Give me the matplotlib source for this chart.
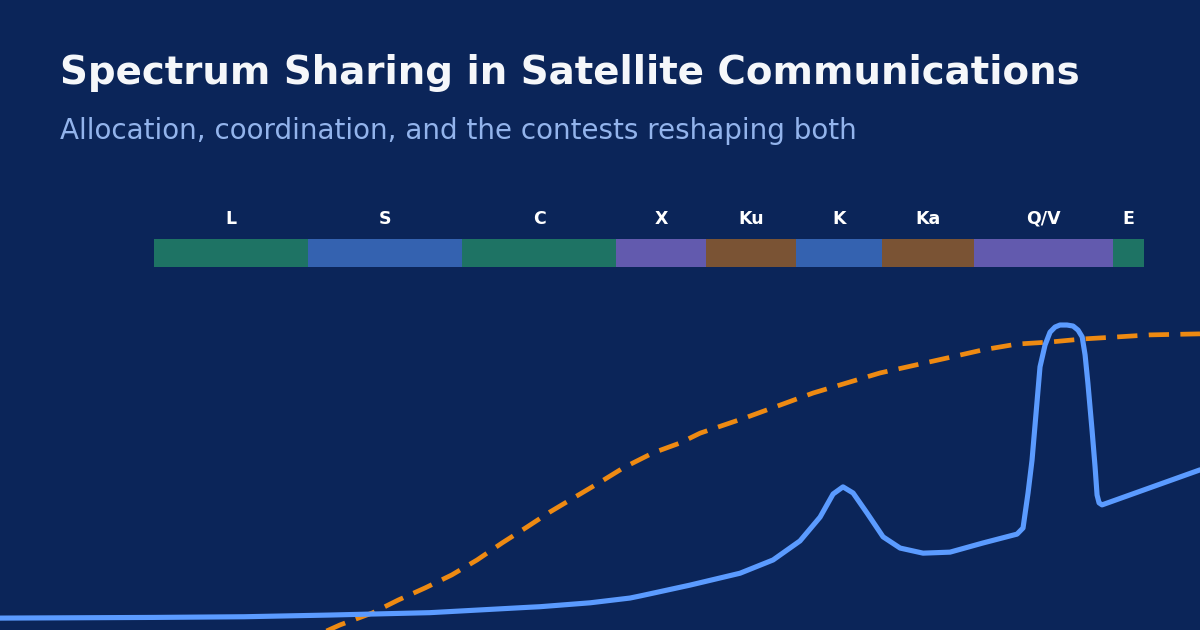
import matplotlib
matplotlib.use("Agg")
import matplotlib.pyplot as plt
from matplotlib.transforms import blended_transform_factory

# ---- data ----
band_names = ["L", "S", "C", "X", "Ku", "K", "Ka", "Q/V", "E"]
band_lo = [1, 2, 4, 8, 12, 18, 26.5, 40, 75]
band_hi = [2, 4, 8, 12, 18, 26.5, 40, 75, 86]
band_colors = ["#1E7364", "#3462B0", "#1E7364", "#625AAE", "#7A5334",
               "#3462B0", "#7A5334", "#625AAE", "#1E7364"]

# blue solid curve (frequency GHz, relative value)
atten_freq = [0.5, 1.0, 1.5, 2.21, 3.46, 5.43, 5.68, 7.12, 8.52, 8.91,
              11.16, 13.98, 16.22, 18.31, 20.04, 21.25, 22.22, 23.25, 24.76,
              26.61, 28.73, 31.86, 35.97, 41.73, 48.63, 49.96, 51.1, 52.03,
              53.93, 55.16, 56.42, 57.7, 59.0, 60.9, 62.58, 64.0, 65.2,
              66.06, 66.9, 68.16, 69.1, 69.72, 70.35, 71.3, 110.8]
atten_val = [3.5, 3.7, 3.9, 4.4, 5.1, 6.7, 6.85, 8.0, 9.4, 10.0,
             13.2, 16.7, 20.6, 26.2, 33.2, 40.0, 42.1, 40.3, 34.4,
             27.4, 24.1, 22.6, 22.9, 25.6, 28.2, 30.0, 40.3, 50.0,
             77.4, 83.8, 87.6, 89.1, 89.7, 89.7, 89.4, 88.2, 86.2,
             80.9, 72.6, 58.8, 47.9, 39.7, 37.4, 36.8, 47.1]

# orange dashed curve (frequency GHz, relative value)
demand_freq = [1.93, 2.31, 2.67, 3.0, 3.39, 3.82, 4.28, 4.79, 5.36, 5.94,
               6.65, 7.45, 8.29, 9.45, 10.67, 11.68, 14.43, 19.42, 26.25,
               35.49, 41.73, 48.63, 56.42, 65.46, 76.28, 88.49, 110.8]
demand_val = [-3.8, 1.5, 5.0, 8.8, 12.4, 16.2, 20.6, 25.6, 30.3, 34.7,
              39.1, 43.5, 47.8, 52.1, 55.0, 57.9, 62.6, 69.7, 75.6,
              80.0, 82.4, 84.1, 84.7, 85.6, 86.2, 86.8, 87.1]

title = "Spectrum Sharing in Satellite Communications"
subtitle = "Allocation, coordination, and the contests reshaping both"

# ---- style ----
BG = "#0B2559"
W, H = 1200, 630
XMIN, XMAX = 0.5, 110.8

fig = plt.figure(figsize=(12, 6.3), dpi=100, facecolor=BG)

# curves axes
ax = fig.add_axes([0, 0, 1, (H - 290) / H])
ax.set_facecolor("none")
ax.set_xscale("log")
ax.set_xlim(XMIN, XMAX)
ax.set_ylim(0, 100)
ax.axis("off")
ax.plot(demand_freq, demand_val, color="#EE8A12", lw=3.4,
        linestyle=(0, (4.3, 2.4)), dash_capstyle="butt",
        dash_joinstyle="round", zorder=2)
ax.plot(atten_freq, atten_val, color="#5B9BFF", lw=3.7,
        solid_joinstyle="round", solid_capstyle="round", zorder=3)

# band strip axes
bax = fig.add_axes([0, (H - 267) / H, 1, 28 / H])
bax.set_facecolor("none")
bax.set_xscale("log")
bax.set_xlim(XMIN, XMAX)
bax.set_ylim(0, 1)
bax.axis("off")
trans = blended_transform_factory(bax.transData, bax.transAxes)
for name, lo, hi, c in zip(band_names, band_lo, band_hi, band_colors):
    bax.axvspan(lo, hi, ymin=0, ymax=1, color=c, lw=0)
    mid = (lo * hi) ** 0.5
    bax.text(mid, 1.72, name, transform=trans, ha="center", va="center",
             color="white", fontsize=12.5, fontweight="bold",
             family="DejaVu Sans")

fig.text(60 / W, 1 - 84 / H, title, color="#F5F7FA", fontsize=27.9,
         fontweight="bold", ha="left", va="baseline", family="DejaVu Sans")
fig.text(60 / W, 1 - 139 / H, subtitle, color="#93B4EC", fontsize=20.0,
         ha="left", va="baseline", family="DejaVu Sans")

fig.savefig("out.png", dpi=100, facecolor=BG)
